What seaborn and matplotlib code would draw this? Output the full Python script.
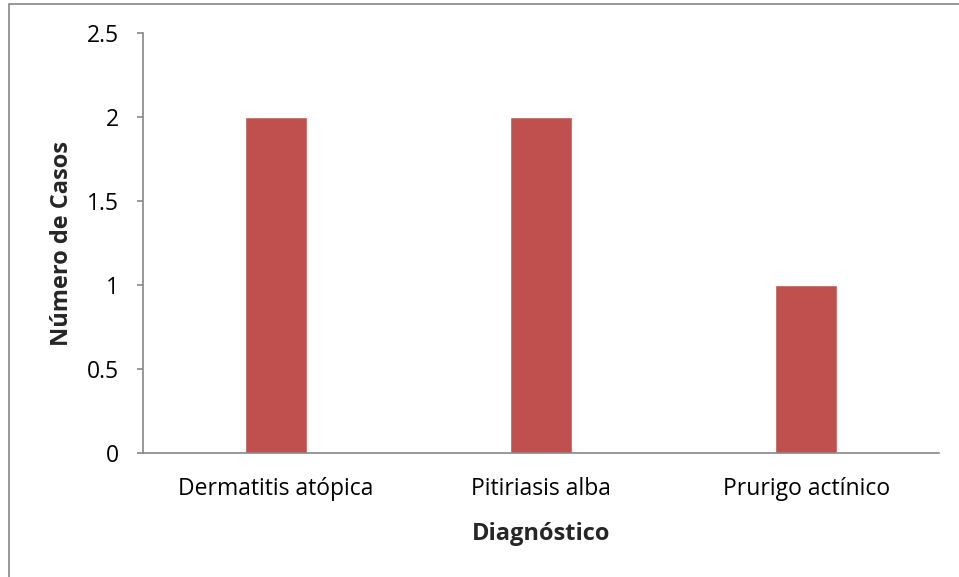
import matplotlib
matplotlib.use("Agg")
import matplotlib.pyplot as plt
from matplotlib.patches import Rectangle
import seaborn as sns
import pandas as pd

# Diagnoses and number of cases per diagnosis
diagnosticos = ["Dermatitis atópica", "Pitiriasis alba", "Prurigo actínico"]
casos = [2, 2, 1]
y_ticks = [0, 0.5, 1, 1.5, 2, 2.5]
y_tick_labels = ["0", "0.5", "1", "1.5", "2", "2.5"]

df = pd.DataFrame({"Diagnóstico": diagnosticos, "Casos": casos})

sns.set_style("white")
plt.rcParams["font.family"] = ["Open Sans", "DejaVu Sans"]

W, H = 959, 577
fig = plt.figure(figsize=(W / 100, H / 100), dpi=100)
ax = fig.add_axes([143 / W, 1 - 453 / H, (939 - 143) / W, (453 - 33) / H])

axis_grey = "#868686"
sns.barplot(data=df, x="Diagnóstico", y="Casos", color="#C0504D",
            saturation=1, width=0.234, ax=ax)

ax.set_xlim(-0.5, len(diagnosticos) - 0.5)
ax.set_ylim(0, 2.5)
ax.set_yticks(y_ticks)
ax.set_yticklabels(y_tick_labels)

for side in ("top", "right"):
    ax.spines[side].set_visible(False)
for side in ("left", "bottom"):
    ax.spines[side].set_color(axis_grey)
    ax.spines[side].set_linewidth(1.2)

ax.tick_params(axis="y", which="both", left=True, length=4.5, width=1.2,
               color=axis_grey, labelsize=16.5, pad=12.5, labelcolor="black")
ax.tick_params(axis="x", which="both", bottom=False, labelsize=16.5, pad=14,
               labelcolor="black")

ax.set_xlabel("Diagnóstico", fontsize=17, fontweight="bold", labelpad=15)
ax.set_ylabel("Número de Casos", fontsize=17, fontweight="bold", labelpad=9.5)

# Chart-area frame
fig.patches.append(Rectangle((8.5 / W, -0.01), 1.0, 1 - 4 / H + 0.01,
                             transform=fig.transFigure, fill=False,
                             edgecolor=axis_grey, linewidth=1.2))

fig.savefig("out.png", dpi=100)
